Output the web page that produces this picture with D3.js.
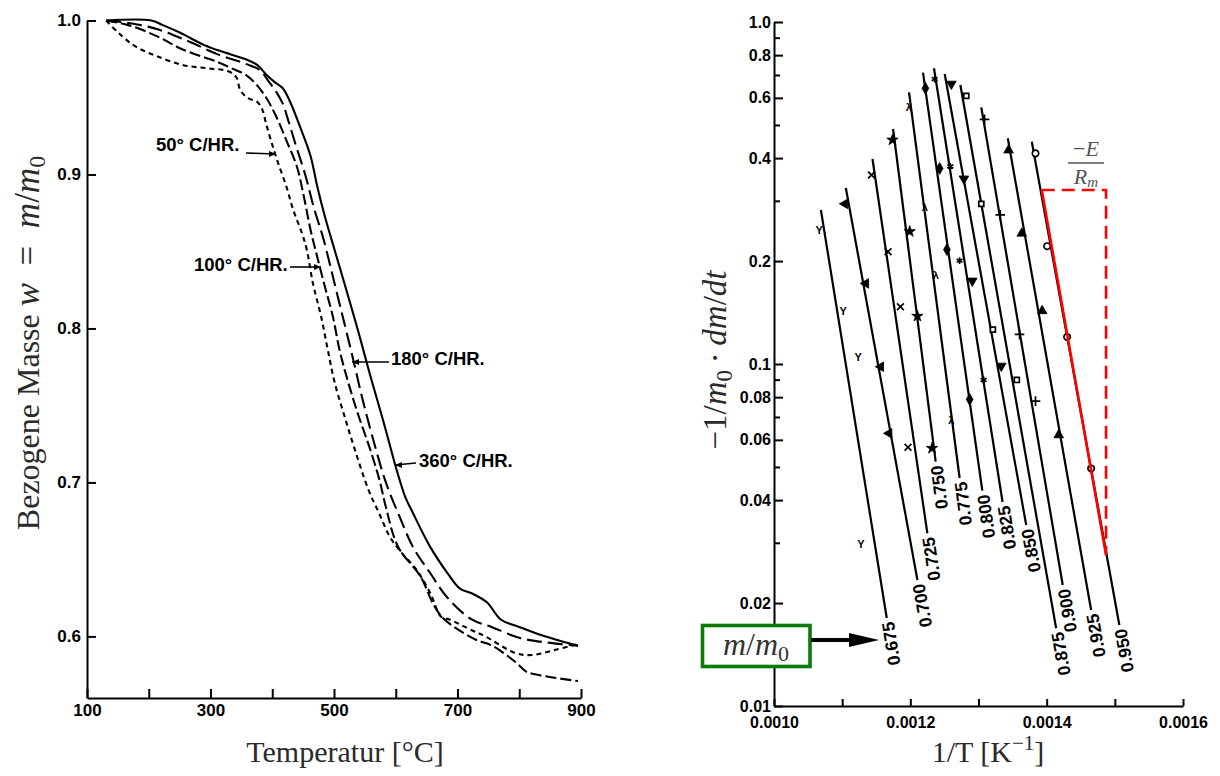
<!DOCTYPE html>
<html>
<head>
<meta charset="utf-8">
<script src="https://cdn.jsdelivr.net/npm/d3@7"></script>
<style>
  body { margin: 0; background: #fff; }
  .tick text { font-family: "Liberation Sans", Arial, sans-serif; font-weight: bold; fill: #000; }
</style>
</head>
<body>
<svg id="chart" width="1220" height="776"></svg>
<script>
// ---------- left panel: mass vs temperature ----------
const tempTicks = [100, 200, 300, 400, 500, 600, 700, 800, 900];
const tempLabels = [100, 300, 500, 700, 900];
const massTicks = [1.0, 0.9, 0.8, 0.7, 0.6];
const massLabels = ["1.0", "0.9", "0.8", "0.7", "0.6"];
const rateNames = ["50° C/HR.", "100° C/HR.", "180° C/HR.", "360° C/HR."];

const mass50 = [[131,1.000],[151,0.992],[179,0.983],[212,0.977],[256,0.971],[295,0.969],[329,0.967],[342,0.963],
  [348,0.955],[359,0.950],[376,0.947],[384,0.942],[390,0.933],[398,0.922],[409,0.908],[423,0.892],[434,0.877],
  [448,0.862],[456,0.851],[466,0.829],[479,0.808],[490,0.786],[501,0.765],[517,0.743],[534,0.721],[556,0.695],
  [573,0.680],[590,0.665],[606,0.656],[634,0.643],[656,0.628],[673,0.613],[687,0.611],[723,0.604],[745,0.600],
  [795,0.589],[823,0.588],[856,0.591],[895,0.595]];
const mass100 = [[131,1.000],[167,0.997],[212,0.990],[256,0.981],[312,0.973],[334,0.969],[356,0.965],[373,0.959],
  [390,0.950],[406,0.938],[423,0.922],[440,0.905],[451,0.886],[462,0.864],[470,0.851],[484,0.829],[498,0.808],
  [509,0.786],[523,0.765],[540,0.743],[559,0.721],[574,0.701],[584,0.684],[604,0.658],[640,0.639],[662,0.620],
  [679,0.611],[729,0.598],[756,0.594],[795,0.583],[812,0.577],[845,0.574],[895,0.571]];
const mass180 = [[131,1.000],[173,0.998],[217,0.994],[267,0.986],[312,0.978],[356,0.972],[379,0.968],[395,0.960],
  [406,0.954],[417,0.946],[426,0.935],[439,0.918],[454,0.899],[467,0.879],[483,0.858],[501,0.829],[517,0.803],
  [531,0.780],[545,0.756],[562,0.730],[584,0.700],[606,0.678],[628,0.658],[656,0.641],[684,0.625],[723,0.611],
  [756,0.606],[801,0.599],[845,0.596],[895,0.594]];
const mass360 = [[131,1.000],[204,1.000],[223,0.997],[251,0.992],[290,0.984],[317,0.980],[356,0.975],[376,0.971],
  [390,0.965],[404,0.960],[417,0.956],[428,0.948],[445,0.931],[462,0.912],[473,0.892],[485,0.873],[501,0.851],
  [520,0.825],[540,0.797],[559,0.769],[579,0.741],[598,0.713],[606,0.702],[615,0.691],[628,0.680],[656,0.658],
  [684,0.641],[704,0.631],[723,0.628],[748,0.622],[770,0.611],[801,0.606],[834,0.601],[867,0.597],[895,0.594]];

// ---------- right panel: rate vs 1/T ----------
const rateTicks = [1.0, 0.8, 0.6, 0.4, 0.2, 0.1, 0.08, 0.06, 0.04, 0.02, 0.01];
const rateLabels = ["1.0", "0.8", "0.6", "0.4", "0.2", "0.1", "0.08", "0.06", "0.04", "0.02", "0.01"];
const rateMinor = [0.9, 0.7, 0.5, 0.3, 0.09, 0.07, 0.05, 0.03];
const invTTicks = [0.0010, 0.0011, 0.0012, 0.0013, 0.0014, 0.0015, 0.0016];
const invTLabels = ["0.0010", "", "0.0012", "", "0.0014", "", "0.0016"];
const fractions = ["0.675", "0.700", "0.725", "0.750", "0.775", "0.800", "0.825", "0.850", "0.875", "0.900", "0.925", "0.950"];
const lineTop = [[1.0688e-3,0.2820],[1.1054e-3,0.3270],[1.1445e-3,0.3976],[1.1747e-3,0.4866],[1.1981e-3,0.6227],
  [1.2186e-3,0.7108],[1.2347e-3,0.7322],[1.2504e-3,0.7045],[1.2734e-3,0.6544],[1.3041e-3,0.5630],[1.3430e-3,0.4570],
  [1.3782e-3,0.4467]];
const lineBottom = [[1.1654e-3,0.01809],[1.2104e-3,0.02335],[1.2250e-3,0.03199],[1.2372e-3,0.05179],[1.2723e-3,0.04642],
  [1.3056e-3,0.04261],[1.3353e-3,0.03949],[1.3700e-3,0.03382],[1.4139e-3,0.01688],[1.4236e-3,0.02258],[1.4652e-3,0.01909],
  [1.5066e-3,0.01725]];
const points675 = [[1.0663e-3,0.246],[1.1015e-3,0.143],[1.1234e-3,0.105],[1.1274e-3,0.0297]];
const points700 = [[1.1040e-3,0.294],[1.1347e-3,0.172],[1.1567e-3,0.0982],[1.1688e-3,0.0627]];
const points725 = [[1.1430e-3,0.357],[1.1673e-3,0.213],[1.1855e-3,0.147],[1.1966e-3,0.0571]];
const points750 = [[1.1738e-3,0.452],[1.1991e-3,0.244],[1.2104e-3,0.138],[1.2318e-3,0.0567]];
const points775 = [[1.1977e-3,0.565],[1.2211e-3,0.288],[1.2372e-3,0.182],[1.2602e-3,0.0686]];
const points800 = [[1.2221e-3,0.640],[1.2430e-3,0.373],[1.2537e-3,0.216],[1.2870e-3,0.0788]];
const points825 = [[1.2357e-3,0.681],[1.2587e-3,0.378],[1.2723e-3,0.2005],[1.3075e-3,0.0898]];
const points850 = [[1.2602e-3,0.659],[1.2786e-3,0.348],[1.2909e-3,0.175],[1.3334e-3,0.0987]];
const points875 = [[1.2821e-3,0.608],[1.3041e-3,0.294],[1.3211e-3,0.126],[1.3562e-3,0.0898]];
const points900 = [[1.3089e-3,0.519],[1.3319e-3,0.273],[1.3602e-3,0.122],[1.3836e-3,0.0779]];
const points925 = [[1.3441e-3,0.422],[1.3635e-3,0.241],[1.3934e-3,0.143],[1.4177e-3,0.0620]];
const points950 = [[1.3836e-3,0.413],[1.4007e-3,0.221],[1.4300e-3,0.120],[1.4652e-3,0.0495]];
const pointSets = [points675, points700, points725, points750, points775, points800,
  points825, points850, points875, points900, points925, points950];
const slopeTop = [1.3928e-3, 0.3227];
const slopeBottom = [1.4871e-3, 0.02763];

// ---------- drawing ----------
const svg = d3.select("#chart");
const SERIF = "Liberation Serif, Times New Roman, serif";
const SANS = "Liberation Sans, Arial, sans-serif";

function styleAxis(g, fs) {
  g.select(".domain").attr("stroke-width", 2);
  g.selectAll(".tick line").attr("stroke-width", 2);
  g.selectAll(".tick text").attr("font-size", fs);
}

// left scales and axes
const xT = d3.scaleLinear().domain([100, 900]).range([87, 581]);
const yW = d3.scaleLinear().domain([0.56, 1.0]).range([698, 20.5]);

svg.append("g")
  .attr("transform", "translate(0,698)")
  .call(d3.axisBottom(xT).tickValues(tempTicks).tickSize(-9).tickSizeOuter(0).tickPadding(6)
    .tickFormat(d => tempLabels.includes(d) ? String(d) : ""))
  .call(g => styleAxis(g, 17));

svg.append("g")
  .attr("transform", "translate(87,0)")
  .call(d3.axisLeft(yW).tickValues(massTicks).tickSize(-9).tickSizeOuter(0).tickPadding(6)
    .tickFormat((d, i) => massLabels[i]))
  .call(g => styleAxis(g, 17));

const curveLine = d3.line()
  .x(d => xT(d[0]))
  .y(d => yW(d[1]))
  .curve(d3.curveCatmullRom.alpha(0.5));

const massCurves = [mass50, mass100, mass180, mass360];
const curveDash = ["5,4", "11,4", "15,6", null];

svg.append("g").selectAll("path")
  .data(massCurves)
  .join("path")
  .attr("d", curveLine)
  .attr("fill", "none")
  .attr("stroke", "#000")
  .attr("stroke-width", 2.1)
  .attr("stroke-dasharray", (d, i) => curveDash[i]);

// heating rate labels with pointers
const labelLayout = [
  {tx: 156, ty: 151, x1: 246, y1: 153, x2: 276, y2: 154},
  {tx: 194, ty: 271, x1: 290, y1: 267, x2: 321, y2: 267},
  {tx: 391, ty: 365, x1: 389, y1: 362, x2: 352, y2: 362},
  {tx: 419, ty: 467, x1: 416, y1: 463, x2: 395, y2: 465}
];
const labels = svg.append("g");
rateNames.forEach((name, i) => {
  const p = labelLayout[i];
  labels.append("text")
    .attr("x", p.tx).attr("y", p.ty)
    .attr("font-family", SANS)
    .attr("font-weight", "bold")
    .attr("font-size", 18.5)
    .text(name);
  labels.append("line")
    .attr("x1", p.x1).attr("y1", p.y1).attr("x2", p.x2).attr("y2", p.y2)
    .attr("stroke", "#000").attr("stroke-width", 1.6);
  const dir = Math.sign(p.x2 - p.x1);
  labels.append("path")
    .attr("d", `M${p.x2},${p.y2} l${-dir * 7},-3 l0,6 Z`)
    .attr("fill", "#000");
});

// left axis titles
svg.append("text")
  .attr("x", 345).attr("y", 762)
  .attr("text-anchor", "middle")
  .attr("font-family", SERIF)
  .attr("font-size", 30)
  .attr("fill", "#2a2a2a")
  .text("Temperatur [°C]");

const yTitleL = svg.append("text")
  .attr("transform", "translate(39,343) rotate(-90)")
  .attr("text-anchor", "middle")
  .attr("font-family", SERIF)
  .attr("font-size", 32)
  .attr("fill", "#2a2a2a");
yTitleL.append("tspan").text("Bezogene Masse ");
yTitleL.append("tspan").attr("font-style", "italic").attr("font-size", 35).text("w");
yTitleL.append("tspan").attr("font-size", 35).text("\u2002=\u2002");
yTitleL.append("tspan").attr("font-style", "italic").attr("font-size", 35).text("m");
yTitleL.append("tspan").attr("font-size", 35).text("/");
yTitleL.append("tspan").attr("font-style", "italic").attr("font-size", 35).text("m");
yTitleL.append("tspan").attr("font-size", 24).attr("dy", 6).text("0");

// right scales and axes
const xInv = d3.scaleLinear().domain([0.0010, 0.0016]).range([774, 1183]);
const yRate = d3.scaleLog().domain([0.01, 1.0]).range([706, 22]);

svg.append("g")
  .attr("transform", "translate(0,706)")
  .call(d3.axisBottom(xInv).tickValues(invTTicks).tickSize(-7).tickSizeOuter(0).tickPadding(11)
    .tickFormat((d, i) => invTLabels[i]))
  .call(g => styleAxis(g, 16));

svg.append("g")
  .attr("transform", "translate(774,0)")
  .call(d3.axisLeft(yRate).tickValues(rateTicks).tickSize(-9).tickSizeOuter(0).tickPadding(3)
    .tickFormat((d, i) => rateLabels[i]))
  .call(g => styleAxis(g, 16));

svg.append("g")
  .attr("transform", "translate(774,0)")
  .call(d3.axisLeft(yRate).tickValues(rateMinor).tickSize(-6).tickSizeOuter(0).tickFormat(""))
  .call(g => { g.select(".domain").remove(); g.selectAll(".tick line").attr("stroke-width", 2); });

// iso-conversion lines
const isoLines = svg.append("g");
fractions.forEach((f, i) => {
  const x1 = xInv(lineTop[i][0]), y1 = yRate(lineTop[i][1]);
  const x2 = xInv(lineBottom[i][0]), y2 = yRate(lineBottom[i][1]);
  isoLines.append("line")
    .attr("x1", x1).attr("y1", y1).attr("x2", x2).attr("y2", y2)
    .attr("stroke", "#000").attr("stroke-width", 2.2);
  const len = Math.hypot(x2 - x1, y2 - y1);
  const ux = (x2 - x1) / len, uy = (y2 - y1) / len;
  const ang = Math.atan2(-uy, -ux) * 180 / Math.PI;
  isoLines.append("text")
    .attr("transform", `translate(${x2 + ux * 4},${y2 + uy * 4}) rotate(${ang})`)
    .attr("text-anchor", "end")
    .attr("dy", "0.36em")
    .attr("font-family", SANS)
    .attr("font-weight", "bold")
    .attr("font-size", 17.5)
    .text(f);
});

// data point markers, one shape per line
const markerShapes = [
  {glyph: "Y"},
  {sym: d3.symbolTriangle, rot: -90, fill: true},
  {sym: d3.symbolTimes || d3.symbolX, fill: false},
  {sym: d3.symbolStar, fill: true},
  {glyph: "λ"},
  {sym: d3.symbolDiamond, fill: true},
  {sym: d3.symbolAsterisk, fill: false},
  {sym: d3.symbolTriangle, rot: 180, fill: true},
  {sym: d3.symbolSquare2, fill: false},
  {sym: d3.symbolPlus, fill: false},
  {sym: d3.symbolTriangle, rot: 0, fill: true},
  {sym: d3.symbolCircle, fill: false}
];
const markers = svg.append("g");
pointSets.forEach((pts, i) => {
  const s = markerShapes[i];
  pts.forEach(p => {
    const cx = xInv(p[0]), cy = yRate(p[1]);
    if (s.glyph) {
      markers.append("text")
        .attr("x", cx).attr("y", cy).attr("dy", "0.35em")
        .attr("text-anchor", "middle")
        .attr("font-family", SANS)
        .attr("font-weight", "bold")
        .attr("font-size", 11)
        .text(s.glyph);
    } else {
      markers.append("path")
        .attr("d", d3.symbol().type(s.sym).size(s.fill ? 40 : 32)())
        .attr("transform", `translate(${cx},${cy}) rotate(${s.rot || 0})`)
        .attr("fill", s.fill ? "#000" : "#fff")
        .attr("stroke", "#000")
        .attr("stroke-width", s.fill ? 0.8 : 1.7);
    }
  });
});

// activation energy triangle
const redG = svg.append("g");
redG.append("line")
  .attr("x1", xInv(slopeTop[0])).attr("y1", yRate(slopeTop[1]))
  .attr("x2", xInv(slopeBottom[0])).attr("y2", yRate(slopeBottom[1]))
  .attr("stroke", "#f00").attr("stroke-width", 2.6);
redG.append("path")
  .attr("d", `M${xInv(slopeTop[0])},${yRate(slopeTop[1])} H${xInv(slopeBottom[0])} V${yRate(slopeBottom[1])}`)
  .attr("fill", "none")
  .attr("stroke", "#f00").attr("stroke-width", 2.6)
  .attr("stroke-dasharray", "13,7");

const fracX = 1086;
const num = svg.append("text")
  .attr("x", fracX).attr("y", 156).attr("text-anchor", "middle")
  .attr("font-family", SERIF)
  .attr("font-size", 22).attr("fill", "#555");
num.append("tspan").text("−");
num.append("tspan").attr("font-style", "italic").text("E");
svg.append("line")
  .attr("x1", fracX - 18).attr("x2", fracX + 18).attr("y1", 163).attr("y2", 163)
  .attr("stroke", "#555").attr("stroke-width", 1.4);
const den = svg.append("text")
  .attr("x", fracX).attr("y", 184).attr("text-anchor", "middle")
  .attr("font-family", SERIF)
  .attr("font-size", 22).attr("fill", "#555");
den.append("tspan").attr("font-style", "italic").text("R");
den.append("tspan").attr("font-style", "italic").attr("font-size", 15).attr("dy", 3).text("m");

// m/m0 annotation box with arrow
svg.append("rect")
  .attr("x", 702.5).attr("y", 625.5).attr("width", 107.5).attr("height", 41)
  .attr("fill", "#fff").attr("stroke", "#0a7a0a").attr("stroke-width", 3.6);
const boxText = svg.append("text")
  .attr("x", 756).attr("y", 655).attr("text-anchor", "middle")
  .attr("font-family", SERIF)
  .attr("font-size", 32).attr("fill", "#333");
boxText.append("tspan").attr("font-style", "italic").text("m");
boxText.append("tspan").text("/");
boxText.append("tspan").attr("font-style", "italic").text("m");
boxText.append("tspan").attr("font-size", 22).attr("dy", 6).text("0");
svg.append("line")
  .attr("x1", 811).attr("y1", 640).attr("x2", 852).attr("y2", 640)
  .attr("stroke", "#000").attr("stroke-width", 4);
svg.append("path")
  .attr("d", "M849,633 L879,640 L849,647 Z")
  .attr("fill", "#000");

// right axis titles
const xTitleR = svg.append("text")
  .attr("x", 988).attr("y", 762).attr("text-anchor", "middle")
  .attr("font-family", SERIF)
  .attr("font-size", 30).attr("fill", "#2a2a2a");
xTitleR.append("tspan").text("1/T [K");
xTitleR.append("tspan").attr("font-size", 21).attr("dy", -12).text("−1");
xTitleR.append("tspan").attr("dy", 12).text("]");

const yTitleR = svg.append("text")
  .attr("transform", "translate(726,360) rotate(-90)")
  .attr("text-anchor", "middle")
  .attr("font-family", SERIF)
  .attr("font-size", 33).attr("fill", "#2a2a2a");
yTitleR.append("tspan").text("−1/");
yTitleR.append("tspan").attr("font-style", "italic").text("m");
yTitleR.append("tspan").attr("font-size", 23).attr("dy", 6).text("0");
yTitleR.append("tspan").attr("dy", -6).text("\u2009·\u2009");
yTitleR.append("tspan").attr("font-style", "italic").text("dm");
yTitleR.append("tspan").text("/");
yTitleR.append("tspan").attr("font-style", "italic").text("dt");
</script>
</body>
</html>
